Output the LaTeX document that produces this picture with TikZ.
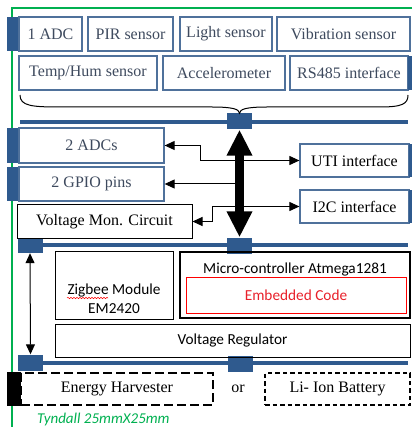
\documentclass[tikz,border=0pt]{standalone}
\usepackage{fontspec}
\setmainfont{Liberation Serif}
\newfontfamily\calfont{Carlito}
\usetikzlibrary{arrows.meta,decorations.pathmorphing}
\definecolor{boardblue}{HTML}{2F5A8E}
\definecolor{boxblue}{HTML}{4F719B}
\definecolor{boxtext}{HTML}{3E4A5E}
\definecolor{tyngreen}{HTML}{00B050}
\definecolor{codered}{HTML}{E8202A}
\begin{document}
\begin{tikzpicture}[x=1pt,y=-1pt,line join=miter,
    serif/.style={font=\fontsize{16}{18}\selectfont},
    calib/.style={font=\calfont\fontsize{15.3}{18}\selectfont},
    bluebox/.style={serif,draw=boxblue,line width=1.3pt,fill=white,text=boxtext,inner sep=0pt},
    blackbox/.style={serif,draw=black,line width=1pt,fill=white,inner sep=0pt},
    longdash/.style={serif,draw=black,line width=1.4pt,dash pattern=on 9pt off 4pt,inner sep=0pt},
    shortdash/.style={serif,draw=black,line width=1.4pt,dash pattern=on 4.5pt off 3pt,inner sep=0pt},
    tab/.style={fill=boardblue,inner sep=0pt},
    pad/.style={fill=boardblue,inner sep=0pt,minimum width=25pt,minimum height=16pt},
    bar/.style={draw=boardblue,line width=4pt},
    sig/.style={line width=1pt,-{Triangle[length=10pt,width=9pt]}},
    sigboth/.style={line width=1pt,{Triangle[length=10pt,width=9pt]}-{Triangle[length=10pt,width=9pt]}}]
  \path[use as bounding box] (0,0) rectangle (412,427);
  % board outline
  \draw[tyngreen,line width=1.5pt] (412,8) -- (12,8) -- (12,427);
  % bus bars
  \draw[bar] (20,122) -- (408,122);
  \draw[bar] (18,245) -- (408,245);
  \draw[bar] (18,363) -- (408,363);
  % sensor row
  \node[tab,minimum width=12pt,minimum height=34pt] (tadc1) at (13,34) {};
  \node[bluebox,minimum width=63pt,minimum height=34pt] (adc1) at (50.5,34) {1 ADC};
  \node[bluebox,minimum width=85pt,minimum height=34pt] (pir) at (130.5,34) {PIR sensor};
  \node[bluebox,minimum width=92pt,minimum height=34pt] (light) at (226,34) {Light sensor};
  \node[bluebox,minimum width=133pt,minimum height=34pt] (vib) at (343.5,34) {Vibration sensor};
  \node[bluebox,minimum width=138pt,minimum height=34pt] (temp) at (88,73) {Temp/Hum sensor};
  \node[bluebox,minimum width=122pt,minimum height=34pt] (acc) at (224,73) {Accelerometer};
  \node[bluebox,minimum width=118pt,minimum height=34pt] (rs485) at (349,73) {RS485 interface};
  \node[tab,minimum width=4pt,minimum height=34pt] (trs485) at (410,73) {};
  % pads on the bars
  \node[pad] (padtop) at (239.5,121.5) {};
  \node[pad] (padmid) at (239.5,245.5) {};
  \node[pad] (padml) at (30,245) {};
  \node[pad] (padll) at (30.5,362.5) {};
  \node[pad] (padlow) at (240,363.5) {};
  % brace
  \draw[line width=1pt] (20,95) .. controls (20,106) and (32,107) .. (60,107) -- (212,107)
    .. controls (232,107) and (239.5,109) .. (padtop.north)
    .. controls (239.5,109) and (247,107) .. (267,107) -- (380,107)
    .. controls (402,107) and (408,104) .. (408,95);
  % middle blocks
  \node[tab,minimum width=12pt,minimum height=35pt] (tadc2) at (13,145.5) {};
  \node[bluebox,minimum width=145pt,minimum height=35pt] (adc2) at (91.5,145.5) {2 ADCs};
  \node[tab,minimum width=12pt,minimum height=34pt] (tgpio) at (13,184) {};
  \node[bluebox,minimum width=145pt,minimum height=34pt] (gpio) at (91.5,184) {2 GPIO pins};
  \node[blackbox,minimum width=175pt,minimum height=33pt] (vmon) at (104.5,221.5) {Voltage Mon. Circuit};
  \node[blackbox,draw=boxblue,line width=1.2pt,minimum width=109pt,minimum height=33pt] (uti) at (354.5,160.5) {UTI interface};
  \node[tab,minimum width=3pt,minimum height=33pt] (tuti) at (410.5,160.5) {};
  \node[blackbox,draw=boxblue,line width=1.2pt,minimum width=109pt,minimum height=33pt] (i2c) at (354.5,206.5) {I2C interface};
  \node[tab,minimum width=3pt,minimum height=33pt] (ti2c) at (410.5,206.5) {};
  % signal lines
  \draw[sigboth] (adc2.east) -- ++(36,0) |- (uti.west);
  \draw[sig] (padtop |- gpio.east) -- (gpio.east);
  \draw[sigboth] (vmon.east) -- ++(20,0) |- (i2c.west);
  \draw[line width=9pt,{Triangle[length=26pt,width=24pt]}-{Triangle[length=26pt,width=24pt]}]
    (padtop.south) -- (padmid.north);
  % lower board
  \node[draw=black,line width=1pt,minimum width=118pt,minimum height=68pt,inner sep=0pt] (zig) at (114,285) {};
  \node[calib,align=center,inner sep=0pt] (zigtxt) at (114,299) {Zigbee Module\\[1pt]EM2420};
  \draw[red,line width=0.5pt,decorate,decoration={snake,amplitude=0.7pt,segment length=3pt}] (67,298) -- (108,298);
  \node[draw=black,line width=2.5pt,minimum width=230pt,minimum height=66pt,inner sep=0pt] (mcu) at (295,285) {};
  \node[calib,inner sep=0pt] (mcutxt) at (295,270) {Micro-controller Atmega1281};
  \node[calib,draw=red,line width=1pt,text=codered,minimum width=220pt,minimum height=36pt,inner sep=0pt] (code) at (296,295) {Embedded Code};
  \node[calib,draw=black,line width=1pt,minimum width=355pt,minimum height=33pt,inner sep=0pt] (vreg) at (232.5,340.5) {Voltage Regulator};
  \draw[sigboth] (padml.south) -- (padll.north);
  % power source
  \node[longdash,minimum width=192pt,minimum height=32pt] (harv) at (117,389) {Energy Harvester};
  \node[fill=black,inner sep=0pt,minimum width=14pt,minimum height=34pt] (tharv) at (14,389) {};
  \node[serif,inner sep=0pt] (or) at (238,389) {or};
  \node[shortdash,minimum width=145pt,minimum height=32pt] (batt) at (337.5,389) {Li- Ion Battery};
  \node[font=\calfont\itshape\fontsize{15}{18}\selectfont,text=tyngreen,anchor=west,inner sep=0pt] (tyn) at (37,419) {Tyndall 25mmX25mm};
\end{tikzpicture}
\end{document}
